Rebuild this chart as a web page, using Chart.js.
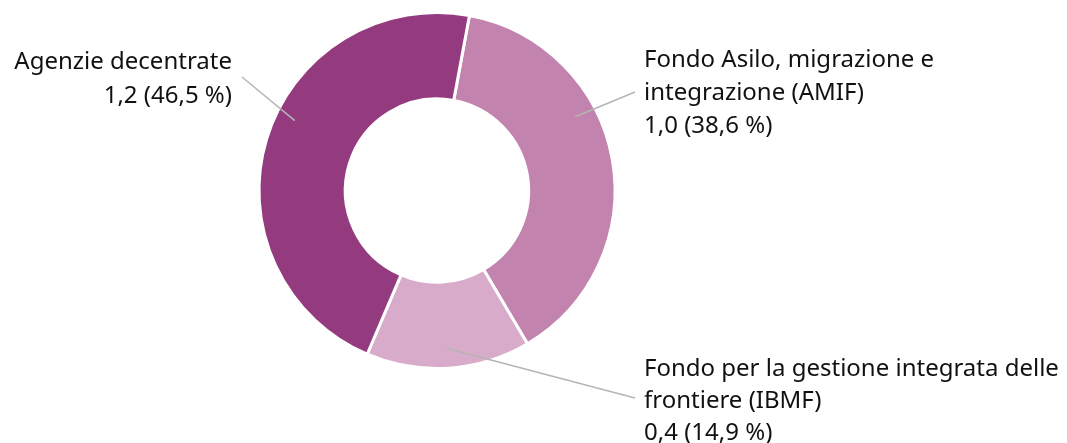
<!DOCTYPE html>
<html>
<head>
<meta charset="utf-8">
<script src="https://cdn.jsdelivr.net/npm/chart.js@4.4.1/dist/chart.umd.min.js"></script>
<style>
  html, body { margin: 0; padding: 0; background: #fff; }
  #wrap { width: 1067px; height: 443px; position: relative; }
</style>
</head>
<body>
<div id="wrap"><canvas id="grafico"></canvas></div>
<script>
// dati (miliardi di EUR e quota %)
const categorie = ['Fondo Asilo, migrazione e integrazione (AMIF)', 'Fondo per la gestione integrata delle frontiere (IBMF)', 'Agenzie decentrate'];
const importi = ['1,0', '0,4', '1,2'];
const quote = [38.6, 14.9, 46.5];
const etichette = [
    ['Fondo Asilo, migrazione e', 'integrazione (AMIF)', '1,0 (38,6 %)'],
    ['Fondo per la gestione integrata delle', 'frontiere (IBMF)', '0,4 (14,9 %)'],
    ['Agenzie decentrate', '1,2 (46,5 %)']
];
const colori = ['#c283ae', '#d7abc9', '#943a7e'];

// posizione dei testi e delle linee guida
const posEtichette = [
    { x: 644, y: 67, step: 33, align: 'left', frac: 0.37, rad: 0.88, lx: 635, ly: 92 },
    { x: 644, y: 376, step: 32, align: 'left', frac: 0.5, rad: 0.89, lx: 635, ly: 398 },
    { x: 232, y: 69, step: 34, align: 'right', frac: 0.556, rad: 0.89, lx: 242, ly: 77 }
];

const pluginEtichette = {
    id: 'etichette',
    afterDraw(chart) {
        const ctx = chart.ctx;
        const archi = chart.getDatasetMeta(0).data;
        ctx.save();
        for (let i = 0; i < archi.length; i++) {
            const a = archi[i].getProps(['x', 'y', 'startAngle', 'endAngle', 'outerRadius'], true);
            const p = posEtichette[i];
            const ang = a.startAngle + (a.endAngle - a.startAngle) * p.frac;
            const r = a.outerRadius * p.rad;
            ctx.strokeStyle = '#b5b5b5';
            ctx.lineWidth = 1.5;
            ctx.beginPath();
            ctx.moveTo(a.x + Math.cos(ang) * r, a.y + Math.sin(ang) * r);
            ctx.lineTo(p.lx, p.ly);
            ctx.stroke();

            ctx.fillStyle = '#111111';
            ctx.font = '24px "Noto Sans"';
            ctx.textAlign = p.align;
            ctx.textBaseline = 'alphabetic';
            for (let k = 0; k < etichette[i].length; k++) {
                ctx.fillText(etichette[i][k], p.x, p.y + k * p.step);
            }
        }
        ctx.restore();
    }
};

const ctx = document.getElementById('grafico');
new Chart(ctx, {
    type: 'doughnut',
    data: {
        labels: categorie,
        datasets: [{
            data: quote,
            backgroundColor: colori,
            borderColor: '#ffffff',
            borderWidth: 3
        }]
    },
    options: {
        responsive: true,
        maintainAspectRatio: false,
        animation: false,
        rotation: 10.5,
        cutout: '51.5%',
        layout: {
            padding: { left: 257, right: 450, top: 11, bottom: 73 }
        },
        plugins: {
            legend: { display: false },
            tooltip: { enabled: false }
        }
    },
    plugins: [pluginEtichette]
});
</script>
</body>
</html>
